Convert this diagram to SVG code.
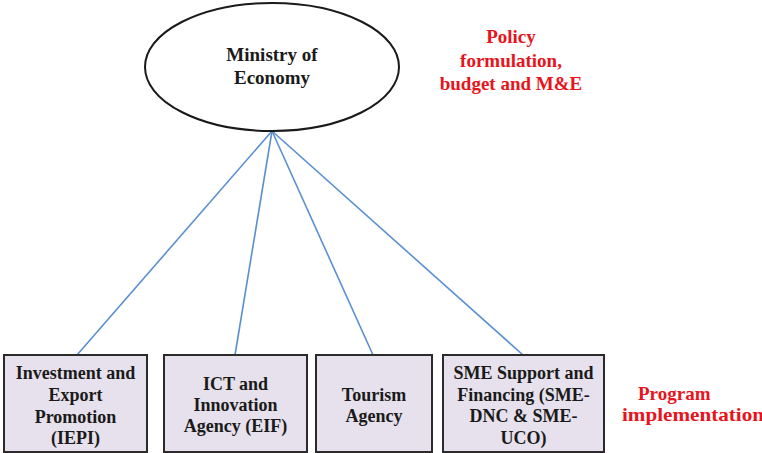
<svg xmlns="http://www.w3.org/2000/svg" width="762" height="453" viewBox="0 0 762 453">
  <style>
    .box { fill: #e6e1ec; stroke: #2b2b2b; stroke-width: 2; }
    .oval { fill: #ffffff; stroke: #1a1a1a; stroke-width: 2; }
    .lbl { font-family: "Liberation Serif", serif; font-weight: bold; font-size: 18px; fill: #1a1a1a; text-anchor: middle; }
    .big { font-size: 19px; }
    .note { font-family: "Liberation Serif", serif; font-weight: bold; font-size: 19px; fill: #e8141c; }
    .link { stroke: #5b8fd0; stroke-width: 1.6; fill: none; }
  </style>
  <rect width="762" height="453" fill="#ffffff"/>

  <g id="connectors">
    <line class="link" x1="272" y1="131" x2="77" y2="355"/>
    <line class="link" x1="272" y1="131" x2="235" y2="355"/>
    <line class="link" x1="272" y1="131" x2="373" y2="355"/>
    <line class="link" x1="272" y1="131" x2="523" y2="355"/>
  </g>

  <g id="ministry">
    <ellipse class="oval" cx="272" cy="67" rx="127" ry="64"/>
    <text class="lbl big" font-family="Liberation Serif" x="272" y="61">Ministry of</text>
    <text class="lbl big" font-family="Liberation Serif" x="272" y="84">Economy</text>
  </g>

  <g id="policy-note">
    <text class="note" font-family="Liberation Serif" x="511" y="43" text-anchor="middle">Policy</text>
    <text class="note" font-family="Liberation Serif" x="511" y="67" text-anchor="middle">formulation,</text>
    <text class="note" font-family="Liberation Serif" x="511" y="90" text-anchor="middle">budget and M&amp;E</text>
  </g>

  <g id="iepi">
    <rect class="box" x="4" y="355" width="143" height="97"/>
    <text class="lbl" font-family="Liberation Serif" x="75.5" y="379">Investment and</text>
    <text class="lbl" font-family="Liberation Serif" x="75.5" y="401">Export</text>
    <text class="lbl" font-family="Liberation Serif" x="75.5" y="423">Promotion</text>
    <text class="lbl" font-family="Liberation Serif" x="75.5" y="444">(IEPI)</text>
  </g>

  <g id="eif">
    <rect class="box" x="164" y="355" width="143" height="97"/>
    <text class="lbl" font-family="Liberation Serif" x="235.5" y="390">ICT and</text>
    <text class="lbl" font-family="Liberation Serif" x="235.5" y="411">Innovation</text>
    <text class="lbl" font-family="Liberation Serif" x="235.5" y="432">Agency (EIF)</text>
  </g>

  <g id="tourism">
    <rect class="box" x="316" y="355" width="116" height="97"/>
    <text class="lbl" font-family="Liberation Serif" x="374" y="401">Tourism</text>
    <text class="lbl" font-family="Liberation Serif" x="374" y="422">Agency</text>
  </g>

  <g id="sme">
    <rect class="box" x="443" y="355" width="161" height="97"/>
    <text class="lbl" font-family="Liberation Serif" x="523.5" y="379">SME Support and</text>
    <text class="lbl" font-family="Liberation Serif" x="523.5" y="401">Financing (SME-</text>
    <text class="lbl" font-family="Liberation Serif" x="523.5" y="422">DNC &amp; SME-</text>
    <text class="lbl" font-family="Liberation Serif" x="523.5" y="444">UCO)</text>
  </g>

  <g id="program-note">
    <text class="note" font-family="Liberation Serif" x="638" y="400">Program</text>
    <text class="note" font-family="Liberation Serif" x="622" y="421" textLength="142" lengthAdjust="spacingAndGlyphs">implementation</text>
  </g>
</svg>
